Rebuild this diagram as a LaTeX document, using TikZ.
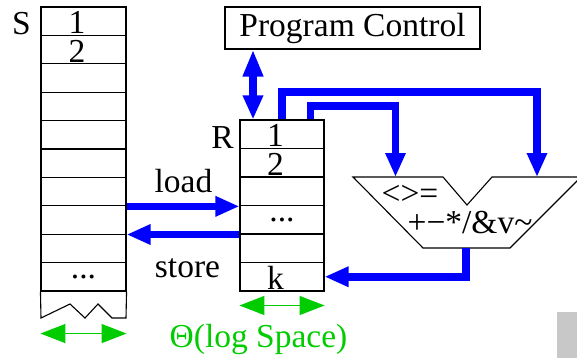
\documentclass[tikz,border=0pt]{standalone}
\usepackage{fontspec}
\setmainfont{Liberation Serif}
\usepackage{xcolor}
\usepackage{tikz}
\usetikzlibrary{arrows.meta}
\definecolor{sizegreen}{RGB}{0,204,0}
\definecolor{scangray}{RGB}{200,200,200}

\begin{document}
\begin{tikzpicture}[x=1pt,y=-1pt,font=\fontsize{33.5}{40}\selectfont,line width=1.1pt,
 cell/.style={draw,minimum width=85pt,minimum height=28.4pt,inner sep=0pt},
 num/.style={inner sep=0pt,text height=26.4pt,text depth=1pt,xshift=-6.5pt},
 txt/.style={inner sep=0pt,anchor=base},
 bus/.style={blue,line width=7.5pt,-{Triangle[length=24pt,width=19pt]}},
 size/.style={sizegreen,line width=1.3pt,{Triangle[length=25pt,width=19pt]}-{Triangle[length=25pt,width=19pt]}}]
\useasboundingbox (0,0) rectangle (577,358);
\fill[scangray] (557,312) rectangle (577,358);
\foreach \i in {1,...,10}
  \node[cell] (s\i) at (83.5,{7+28.4*(\i-0.5)}) {};
\foreach \i in {1,...,6}
  \node[cell,minimum width=84pt] (r\i) at (282,{120+28.5*(\i-0.5)}) {};
\draw (s10.south west) -- (41,318) -- (70,304) -- (85,318) -- (98,304) -- (112,318) -- (126,318) -- (s10.south east);
\node[num] (s1t) at (s1) {1};
\node[num] (s2t) at (s2) {2};
\node (sdots) at (s10) {...};
\node[num] (r1t) at (r1) {1};
\node[num] (r2t) at (r2) {2};
\node (rdots) at (r4) {...};
\node[num] (r6t) at (r6) {k};
\node[txt] (slabel) at (21.5,35) {S};
\node[txt] (rlabel) at (222.5,148) {R};
\node[draw,minimum width=255pt,minimum height=42pt,inner sep=0pt] (pc) at (352.5,28) {Program Control};
\coordinate (inL) at (395.5,177);
\coordinate (inR) at (537,177);
\coordinate (out) at (466,248);
\draw (353,177) -- (443,177) -- (467,205) -- (492,177) -- (581,177) -- (510,248) -- (423,248) -- cycle;
\node[txt] (cmp) at (410,204) {<>=};
\node[txt] (ops) at (470,233) {+−*/\&v\textasciitilde};
\draw[bus] (r1.north) -- ++(0,-27.5) -| (inR);
\draw[bus] ([xshift=28.5pt]r1.north) -- ++(0,-13.5) -| (inL);
\draw[bus,{Triangle[length=24pt,width=19pt]}-{Triangle[length=27pt,width=19pt]}] ([xshift=-29pt]r1.north) -- ([xshift=-29pt]r1.north |- pc.south);
\draw[bus] (s7.south east) -- (s7.south east -| r3.west);
\draw[bus] (r4.south west) -- (r4.south west -| s8.east);
\draw[bus] (out) |- (r6.east);
\node[txt] (ld) at (183.5,192) {load};
\node[txt] (st) at (187.5,277) {store};
\draw[size] ([yshift=-42pt]s10.south west) -- ([yshift=-42pt]s10.south east);
\draw[size] ([yshift=-14pt]r6.south west) -- ([yshift=-14pt]r6.south east);
\node[txt,sizegreen] (space) at (258.5,347) {Θ(log Space)};
\end{tikzpicture}
\end{document}
